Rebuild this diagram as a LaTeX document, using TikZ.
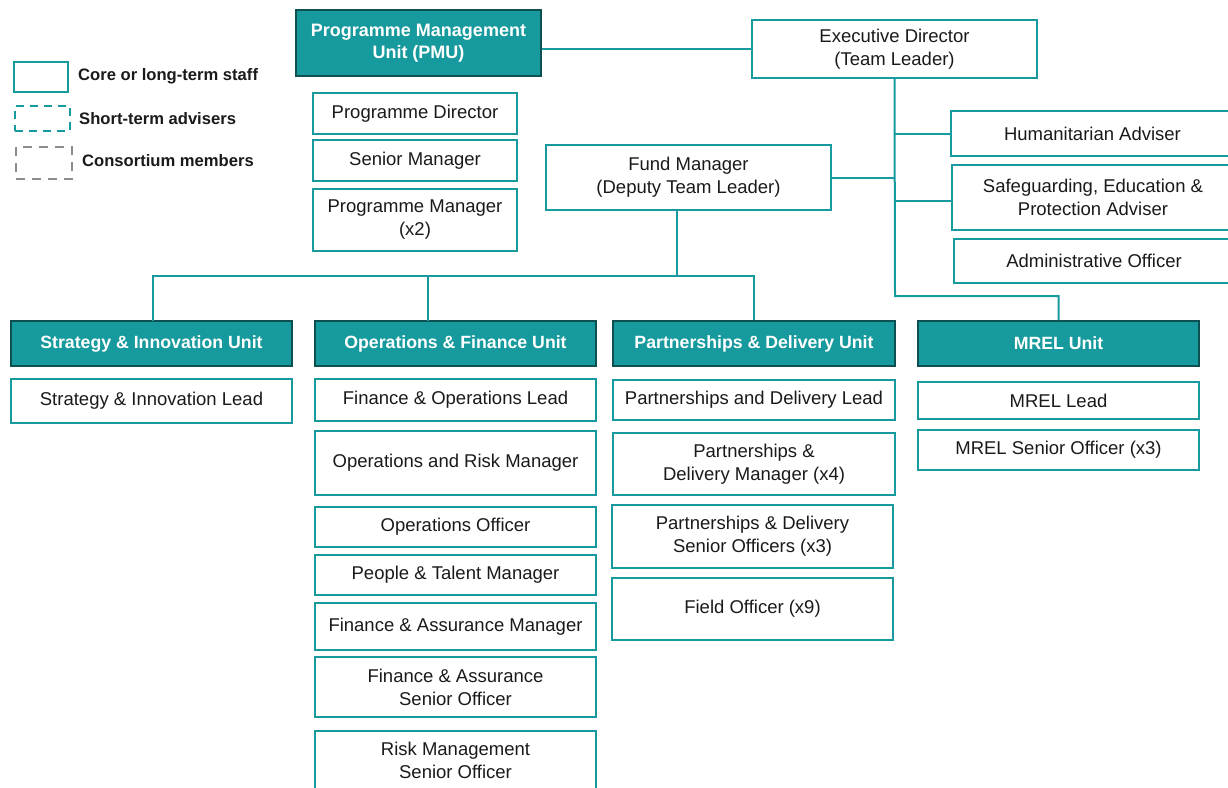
\documentclass[tikz,border=0pt]{standalone}
\usepackage{fontspec}
\setmainfont{Liberation Sans}
\definecolor{teal1}{HTML}{179A9D}
\definecolor{tealdark}{HTML}{0E4F51}
\definecolor{lgray}{HTML}{8C8C8C}
\definecolor{ink}{HTML}{1A1A1A}
\tikzset{wh/.style 2 args={minimum width=#1pt, minimum height=#2pt}}
\begin{document}
\begin{tikzpicture}[x=1pt,y=-1pt,
  box/.style={draw=teal1, line width=2pt, fill=white, align=center, inner sep=0pt, font=\fontsize{18.5}{23}\selectfont, text=ink},
  unit/.style={draw=tealdark, line width=2pt, fill=teal1, align=center, inner sep=0pt, font=\fontsize{17.7}{22}\selectfont\bfseries, text=white},
  link/.style={draw=teal1, line width=2pt},
  legbox/.style={line width=2pt, inner sep=0pt, fill=white},
  legtxt/.style={anchor=west, font=\fontsize{16.6}{18}\selectfont\bfseries, inner sep=0pt, text=ink}]
\useasboundingbox (0,0) rectangle (1228,787);
\fill[white] (0,0) rectangle (1228,787);

% legend
\node[legbox, draw=teal1, wh={54}{30}] (lg1) at (41,77) {};
\node[legtxt] (lt1) at (78,76) {Core or long-term staff};
\node[legbox, draw=teal1, dash pattern=on 8pt off 6pt, wh={55}{25}] (lg2) at (42.5,118.5) {};
\node[legtxt] (lt2) at (79,119) {Short-term advisers};
\node[legbox, draw=lgray, dash pattern=on 9pt off 7pt, wh={56}{32}] (lg3) at (44,163) {};
\node[legtxt] (lt3) at (82,161) {Consortium members};

% top
\node[unit, wh={245}{66}, font=\fontsize{18}{22}\selectfont\bfseries] (pmu) at (418.5,43) {Programme Management\\Unit (PMU)};
\node[box, wh={285}{58}] (ed) at (894.5,49) {Executive Director\\(Team Leader)};
\node[box, wh={204}{41}] (pd) at (415,113.5) {Programme Director};
\node[box, wh={204}{41}] (sm) at (415,160.5) {Senior Manager};
\node[box, wh={204}{62}] (pm) at (415,220) {Programme Manager\\(x2)};

\node[box, wh={283}{45}] (ha) at (1092.5,133.5) {Humanitarian Adviser};
\node[box, wh={282}{65}] (sg) at (1093,197.5) {Safeguarding, Education \&\\Protection Adviser};
\node[box, wh={280}{44}] (ao) at (1094,261) {Administrative Officer};
\node[box, wh={285}{65}] (fm) at (688.5,177.5) {Fund Manager\\(Deputy Team Leader)};

% units
\node[unit, wh={281}{45}] (su) at (151.5,343.5) {Strategy \& Innovation Unit};
\node[unit, wh={281}{45}] (ou) at (455.5,343.5) {Operations \& Finance Unit};
\node[unit, wh={282}{45}] (pu) at (754,343.5) {Partnerships \& Delivery Unit};
\node[unit, wh={281}{45}] (mu) at (1058.5,343.5) {MREL Unit};

% strategy column
\node[box, wh={281}{44}] (sil) at (151.5,401) {Strategy \& Innovation Lead};

% operations column
\node[box, wh={281}{42}] (fol) at (455.5,400) {Finance \& Operations Lead};
\node[box, wh={281}{64}] (orm) at (455.5,463) {Operations and Risk Manager};
\node[box, wh={281}{40}] (oo) at (455.5,527) {Operations Officer};
\node[box, wh={281}{40}] (ptm) at (455.5,575) {People \& Talent Manager};
\node[box, wh={281}{47}] (fam) at (455.5,626.5) {Finance \& Assurance Manager};
\node[box, wh={281}{60}] (faso) at (455.5,687) {Finance \& Assurance\\Senior Officer};
\node[box, wh={281}{59}] (rmso) at (455.5,760.5) {Risk Management\\Senior Officer};

% partnerships column
\node[box, wh={282}{40}] (pdl) at (754,400) {Partnerships and Delivery Lead};
\node[box, wh={282}{62}] (pdm) at (754,464) {Partnerships \&\\Delivery Manager (x4)};
\node[box, wh={281}{63}] (pdso) at (752.5,536.5) {Partnerships \& Delivery\\Senior Officers (x3)};
\node[box, wh={281}{62}] (fo) at (752.5,609) {Field Officer (x9)};

% MREL column
\node[box, wh={281}{37}] (ml) at (1058.5,400.5) {MREL Lead};
\node[box, wh={281}{40}] (mso) at (1058.5,450) {MREL Senior Officer (x3)};

% connectors
\coordinate (edturn) at (895,296);
\coordinate (fmdrop) at (677,210);
\coordinate (bus) at (677,276);
\coordinate (suin) at (153,321);
\coordinate (ouin) at (428,321);
\coordinate (sgin) at (952,201);
\draw[link] (ed.west) -- (pmu.east |- ed.west);
\draw[link] (ed.south) -- (edturn) -| (mu.north);
\draw[link] (ha.west) -- (ha.west -| ed.south);
\draw[link] (sgin) -- (sgin -| ed.south);
\draw[link] (fm.east) -- (fm.east -| ed.south);
\draw[link] (fmdrop) -- (bus);
\draw[link] (bus) -| (suin);
\draw[link] (bus) -| (ouin);
\draw[link] (bus) -| (pu.north);
\end{tikzpicture}
\end{document}
